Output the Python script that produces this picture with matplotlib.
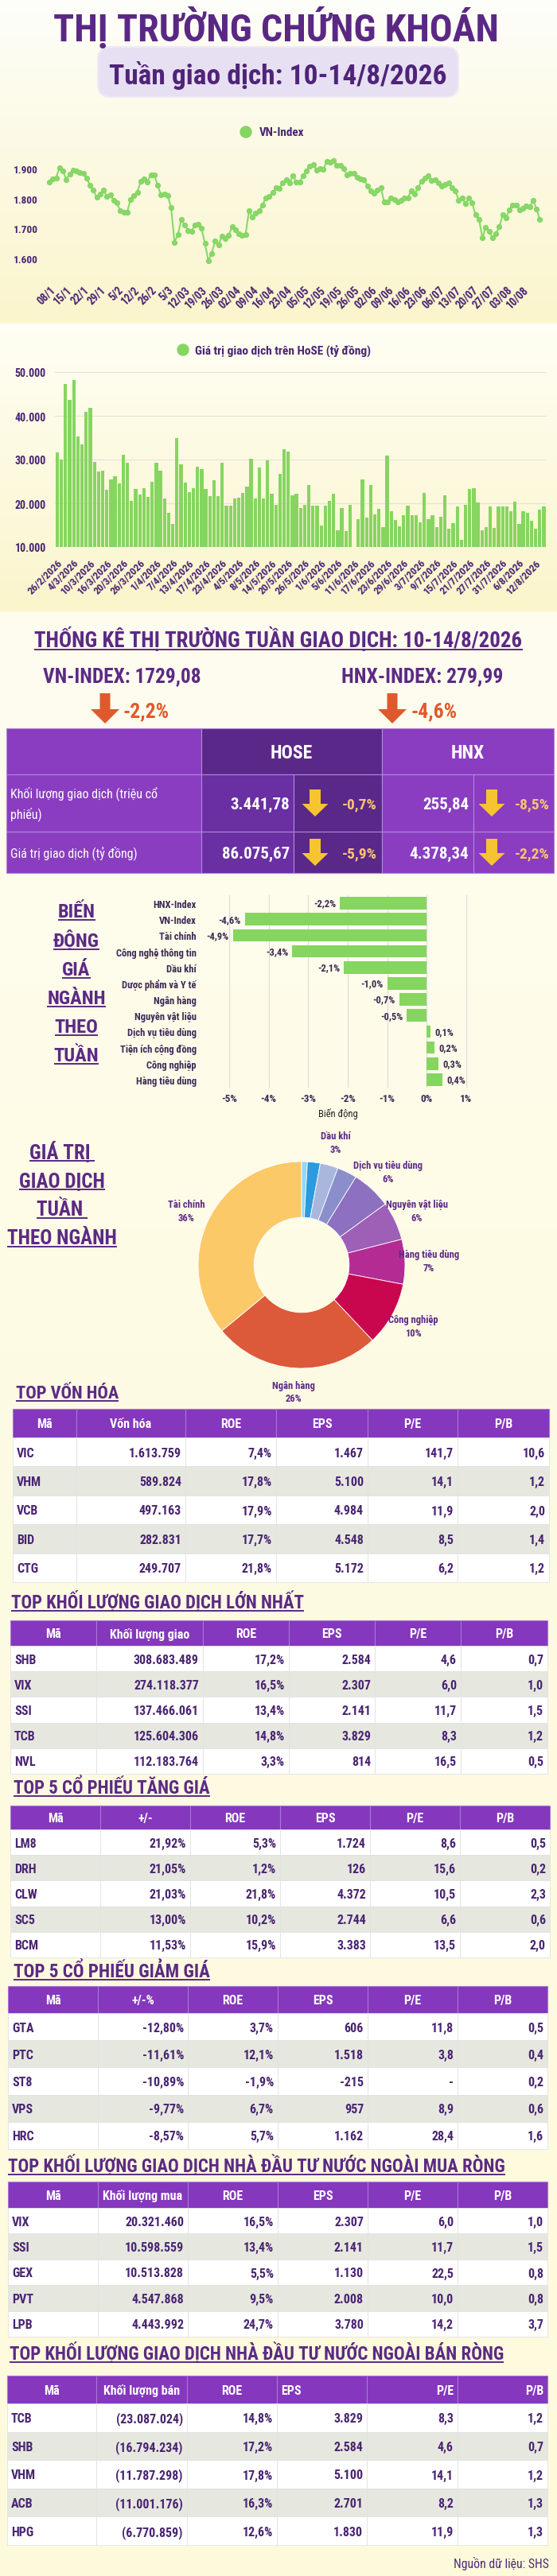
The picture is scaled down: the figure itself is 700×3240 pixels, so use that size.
import numpy as np
import matplotlib
matplotlib.use("Agg")
import matplotlib.pyplot as plt
from matplotlib import font_manager
from matplotlib.patches import Rectangle, FancyBboxPatch, FancyArrow, Circle
from matplotlib.ticker import FuncFormatter

# ---------------- data ----------------
VN_INDEX = [1854, 1865, 1869, 1904, 1893, 1864, 1881, 1896, 1893, 1887, 1883, 1869, 1844, 1829,
            1804, 1814, 1829, 1807, 1813, 1794, 1785, 1758, 1755, 1755, 1796, 1811, 1820, 1857,
            1865, 1856, 1880, 1880, 1844, 1813, 1816, 1810, 1769, 1654, 1679, 1730, 1711, 1694,
            1691, 1711, 1714, 1700, 1650, 1592, 1617, 1659, 1645, 1674, 1667, 1676, 1705, 1696,
            1682, 1676, 1679, 1758, 1738, 1752, 1758, 1778, 1803, 1807, 1820, 1836, 1833, 1853,
            1862, 1853, 1877, 1856, 1856, 1877, 1891, 1909, 1914, 1896, 1900, 1897, 1925, 1922,
            1927, 1912, 1911, 1899, 1880, 1884, 1883, 1872, 1865, 1862, 1843, 1826, 1818, 1829,
            1836, 1788, 1788, 1802, 1796, 1788, 1795, 1803, 1803, 1827, 1816, 1836, 1857, 1867,
            1877, 1860, 1864, 1853, 1841, 1846, 1851, 1836, 1826, 1795, 1803, 1782, 1802, 1785,
            1745, 1731, 1669, 1703, 1691, 1669, 1683, 1705, 1745, 1735, 1763, 1779, 1778, 1763,
            1767, 1776, 1772, 1794, 1765, 1729]
VN_TICKS = ["08/1", "15/1", "22/1", "29/1", "5/2", "12/2", "26/2", "5/3", "12/03", "19/03",
            "26/03", "02/04", "09/04", "16/04", "23/04", "05/05", "12/05", "19/05", "26/05",
            "02/06", "09/06", "16/06", "23/06", "06/07", "13/07", "20/07", "27/07", "03/08", "10/08"]

HOSE_VALUE = [31700, 30000, 47300, 43700, 48200, 35300, 33400, 41000, 41800, 29500,
              27200, 27400, 23100, 25400, 26200, 24600, 31100, 29300, 20500, 23300,
              22000, 23400, 21500, 24900, 29300, 27400, 21100, 17900, 15200, 35000,
              28900, 24700, 22500, 23500, 28300, 27900, 23300, 21700, 25200, 21600,
              29300, 19400, 19400, 21100, 21200, 22400, 23800, 30100, 21100, 28100,
              21100, 29900, 22200, 19700, 26700, 32400, 31800, 21900, 22200, 19000,
              19700, 24200, 19500, 19500, 15000, 19500, 20500, 22100, 13800, 19000,
              13700, 19700, 10000, 16300, 25400, 16700, 24200, 17500, 18700, 14500,
              31000, 18200, 16100, 14800, 17300, 19500, 17200, 17200, 15600, 22400,
              16400, 17200, 14600, 17000, 21800, 14200, 15500, 19200, 11600, 19600,
              23200, 23400, 20100, 13900, 14600, 19200, 14400, 19200, 19200, 19200,
              18200, 20400, 15200, 18100, 17800, 16000, 14100, 18600, 19300]
HOSE_TICKS = ["26/2/2026", "4/3/2026", "10/3/2026", "16/3/2026", "20/3/2026", "26/3/2026",
              "1/4/2026", "7/4/2026", "13/4/2026", "17/4/2026", "23/4/2026", "4/5/2026",
              "8/5/2026", "14/5/2026", "20/5/2026", "26/5/2026", "1/6/2026", "5/6/2026",
              "11/6/2026", "17/6/2026", "23/6/2026", "29/6/2026", "3/7/2026", "9/7/2026",
              "15/7/2026", "21/7/2026", "27/7/2026", "31/7/2026", "6/8/2026", "12/8/2026"]

INDEX_NAMES = ["VN-INDEX", "HNX-INDEX"]
INDEX_LEVEL = ["1729,08", "279,99"]
INDEX_CHG = [-2.2, -4.6]

STAT_ROWS = ["Khối lượng giao dịch (triệu cổ\nphiếu)", "Giá trị giao dịch (tỷ đồng)"]
HOSE_STAT = ["3.441,78", "86.075,67"]
HOSE_CHG = [-0.7, -5.9]
HNX_STAT = ["255,84", "4.378,34"]
HNX_CHG = [-8.5, -2.2]

SECTORS = ["HNX-Index", "VN-Index", "Tài chính", "Công nghệ thông tin", "Dầu khí",
           "Dược phẩm và Y tế", "Ngân hàng", "Nguyên vật liệu", "Dịch vụ tiêu dùng",
           "Tiện ích cộng đồng", "Công nghiệp", "Hàng tiêu dùng"]
SECTOR_CHG = [-2.2, -4.6, -4.9, -3.4, -2.1, -1.0, -0.7, -0.5, 0.1, 0.2, 0.3, 0.4]

PIE_NAMES = ["Tiện ích cộng đồng", "Công nghệ thông tin", "Dầu khí", "Dược phẩm và Y tế",
             "Dịch vụ tiêu dùng", "Nguyên vật liệu", "Hàng tiêu dùng", "Công nghiệp",
             "Ngân hàng", "Tài chính"]
PIE_SHARE = [0.9, 2.0, 2.8, 3.1, 6.2, 6.0, 7.0, 10.0, 26.0, 36.0]
PIE_SHOW = [False, False, True, False, True, True, True, True, True, True]
PIE_COLORS = ["#8fd8f6", "#2b9be0", "#a9b6dd", "#8a8fcb", "#8d70bf", "#9e5fb6",
              "#b42c93", "#c9074f", "#dc5a39", "#fbc967"]

CAP_HEAD = ["Mã", "Vốn hóa", "ROE", "EPS", "P/E", "P/B"]
CAP_ROWS = [["VIC", "1.613.759", "7,4%", "1.467", "141,7", "10,6"],
            ["VHM", "589.824", "17,8%", "5.100", "14,1", "1,2"],
            ["VCB", "497.163", "17,9%", "4.984", "11,9", "2,0"],
            ["BID", "282.831", "17,7%", "4.548", "8,5", "1,4"],
            ["CTG", "249.707", "21,8%", "5.172", "6,2", "1,2"]]
VOL_HEAD = ["Mã", "Khối lượng giao", "ROE", "EPS", "P/E", "P/B"]
VOL_ROWS = [["SHB", "308.683.489", "17,2%", "2.584", "4,6", "0,7"],
            ["VIX", "274.118.377", "16,5%", "2.307", "6,0", "1,0"],
            ["SSI", "137.466.061", "13,4%", "2.141", "11,7", "1,5"],
            ["TCB", "125.604.306", "14,8%", "3.829", "8,3", "1,2"],
            ["NVL", "112.183.764", "3,3%", "814", "16,5", "0,5"]]
GAIN_HEAD = ["Mã", "+/-", "ROE", "EPS", "P/E", "P/B"]
GAIN_ROWS = [["LM8", "21,92%", "5,3%", "1.724", "8,6", "0,5"],
             ["DRH", "21,05%", "1,2%", "126", "15,6", "0,2"],
             ["CLW", "21,03%", "21,8%", "4.372", "10,5", "2,3"],
             ["SC5", "13,00%", "10,2%", "2.744", "6,6", "0,6"],
             ["BCM", "11,53%", "15,9%", "3.383", "13,5", "2,0"]]
LOSS_HEAD = ["Mã", "+/-%", "ROE", "EPS", "P/E", "P/B"]
LOSS_ROWS = [["GTA", "-12,80%", "3,7%", "606", "11,8", "0,5"],
             ["PTC", "-11,61%", "12,1%", "1.518", "3,8", "0,4"],
             ["ST8", "-10,89%", "-1,9%", "-215", "-", "0,2"],
             ["VPS", "-9,77%", "6,7%", "957", "8,9", "0,6"],
             ["HRC", "-8,57%", "5,7%", "1.162", "28,4", "1,6"]]
BUY_HEAD = ["Mã", "Khối lượng mua", "ROE", "EPS", "P/E", "P/B"]
BUY_ROWS = [["VIX", "20.321.460", "16,5%", "2.307", "6,0", "1,0"],
            ["SSI", "10.598.559", "13,4%", "2.141", "11,7", "1,5"],
            ["GEX", "10.513.828", "5,5%", "1.130", "22,5", "0,8"],
            ["PVT", "4.547.868", "9,5%", "2.008", "10,0", "0,8"],
            ["LPB", "4.443.992", "24,7%", "3.780", "14,2", "3,7"]]
SELL_HEAD = ["Mã", "Khối lượng bán", "ROE", "EPS", "P/E", "P/B"]
SELL_ROWS = [["TCB", "(23.087.024)", "14,8%", "3.829", "8,3", "1,2"],
             ["SHB", "(16.794.234)", "17,2%", "2.584", "4,6", "0,7"],
             ["VHM", "(11.787.298)", "17,8%", "5.100", "14,1", "1,2"],
             ["ACB", "(11.001.176)", "16,3%", "2.701", "8,2", "1,3"],
             ["HPG", "(6.770.859)", "12,6%", "1.830", "11,9", "1,3"]]

# ---------------- style ----------------
W, H = 700, 3241
PURPLE = "#5b2a85"
DARKTXT = "#4a2572"
GREEN = "#86d561"
HEAD_BG = "#8537bd"
ROW_ALT = "#e6e8e0"

_avail = {f.name for f in font_manager.fontManager.ttflist}
COND = next((f for f in ["Roboto Condensed", "Liberation Sans Narrow", "DejaVu Sans Condensed",
                         "Open Sans Condensed"] if f in _avail), "Liberation Sans")
FAM = [COND, "DejaVu Sans"]
plt.rcParams["font.family"] = FAM
plt.rcParams["font.weight"] = "bold"


def dots(v, pos=None):
    return f"{v:,.0f}".replace(",", ".")


def pct(v):
    return f"{v:.1f}%".replace(".", ",")


fig = plt.figure(figsize=(W / 100, H / 100), dpi=100)
R = fig.canvas.get_renderer()

bg = fig.add_axes([0, 0, 1, 1])
BG_STOPS = [(0, "#fefefb"), (130, "#fdfbea"), (405, "#fbf5cd"), (409, "#fffef8"),
            (420, "#fffef3"), (768, "#fbf5cc"), (772, "#fffdf0"), (1700, "#fefbe4"),
            (3241, "#fdfadc")]
ys = np.arange(H)
cols = np.array([matplotlib.colors.to_rgb(c) for _, c in BG_STOPS])
grad = np.stack([np.interp(ys, [s for s, _ in BG_STOPS], cols[:, k]) for k in range(3)], axis=1)
bg.imshow(grad[:, None, :], extent=(0, W, H, 0), aspect="auto", interpolation="nearest", zorder=0)
bg.set_xlim(0, W)
bg.set_ylim(H, 0)
bg.axis("off")


def axes_px(x0, y0, x1, y1):
    ax = fig.add_axes([x0 / W, 1 - y1 / H, (x1 - x0) / W, (y1 - y0) / H])
    ax.patch.set_visible(False)
    return ax


def put(x, y, s, width=None, size=12, ha="left", va="baseline", color=PURPLE,
        weight="bold", underline=False, **kw):
    t = bg.text(x, y, s, fontsize=size, ha=ha, va=va, color=color, fontweight=weight, **kw)
    if width:
        w = t.get_window_extent(renderer=R).width
        t.set_fontsize(size * width / w)
    if underline:
        bb = t.get_window_extent(renderer=R)
        bg.plot([bb.x0, bb.x1], [y + 3.5, y + 3.5], color=color, lw=1.4,
                solid_capstyle="butt", zorder=3)
    return t


# ---------------- header ----------------
put(347, 52, "THỊ TRƯỜNG CHỨNG KHOÁN", width=560, size=40, ha="center", color="#5a2884")
bg.add_patch(FancyBboxPatch((123, 60), 453, 63, boxstyle="round,pad=0,rounding_size=16",
                            fc="#e7e0f2", ec="#efe9f7", lw=1.5, zorder=1))
put(349, 106, "Tuần giao dịch: 10-14/8/2026", width=425, size=30, ha="center", color="#4f2479")

# ---------------- VN-Index line ----------------
bg.add_patch(Circle((309, 167), 7, color=GREEN, zorder=2))
put(326, 167, "VN-Index", width=56, size=11, va="center", color=DARKTXT)

ax1 = axes_px(53.5, 198, 687, 341)
x_vn = np.arange(len(VN_INDEX))
ax1.plot(x_vn, VN_INDEX, color="#8ad86b", lw=1.5, marker="o", ms=4.2, mec="#84d563", mfc="#8ad86b")
ax1.set_xlim(-2, len(VN_INDEX) + 1)
ax1.set_ylim(1560, 1940)
ax1.set_yticks([1600, 1700, 1800, 1900])
ax1.yaxis.set_major_formatter(FuncFormatter(dots))
ax1.set_xticks(range(0, 5 * len(VN_TICKS), 5))
ax1.set_xticklabels(VN_TICKS, rotation=45, ha="right", rotation_mode="anchor")
ax1.tick_params(axis="y", length=0, pad=4, labelsize=9.5, labelcolor=DARKTXT)
ax1.tick_params(axis="x", length=0, pad=12, labelsize=10, labelcolor=DARKTXT)
for s in ax1.spines.values():
    s.set_visible(False)

# ---------------- HOSE value bars ----------------
bg.add_patch(Circle((230, 441), 7, color=GREEN, zorder=2))
put(245, 441, "Giá trị giao dịch trên HoSE (tỷ đồng)", width=221, size=11, va="center",
    color=DARKTXT)

ax2 = axes_px(68.9, 463.5, 686.6, 689)
ax2.bar(range(len(HOSE_VALUE)), HOSE_VALUE, width=0.82, color=GREEN, zorder=2)
ax2.set_xlim(-0.6, len(HOSE_VALUE) - 0.4)
ax2.set_ylim(10000, 51000)
ax2.set_yticks([10000, 20000, 30000, 40000, 50000])
ax2.yaxis.set_major_formatter(FuncFormatter(dots))
ax2.yaxis.grid(True, color="#e2e2dc", lw=0.8, zorder=0)
ax2.set_xticks(range(0, 4 * len(HOSE_TICKS), 4))
ax2.set_xticklabels(HOSE_TICKS, rotation=45, ha="right", rotation_mode="anchor")
ax2.tick_params(axis="y", length=0, pad=8, labelsize=10, labelcolor=DARKTXT)
ax2.tick_params(axis="x", length=0, pad=9, labelsize=9.5, labelcolor=DARKTXT)
for s in ax2.spines.values():
    s.set_visible(False)

# ---------------- weekly stats ----------------
put(350, 814, "THỐNG KÊ THỊ TRƯỜNG TUẦN GIAO DỊCH: 10-14/8/2026", width=613, size=20,
    ha="center", underline=True)
idx_x = [(54, 198, 132, 154), (429, 203, 493, 516)]
for (x0, wd, ax_, tx), name, lvl, chg in zip(idx_x, INDEX_NAMES, INDEX_LEVEL, INDEX_CHG):
    put(x0, 858, f"{name}: {lvl}", width=wd, size=18)
    bg.add_patch(FancyArrow(ax_, 873, 0, 38 if chg < 0 else -38, width=13, head_width=36,
                            head_length=18, length_includes_head=True, color="#de5a2c", lw=0))
    put(tx, 902, pct(chg).replace(",", ",") if chg < 0 else "+" + pct(chg), width=58, size=16,
        color="#e0592e")

C_LIGHT, C_MID, C_DARK = "#8a3dc1", "#6a2fa3", "#5a2889"
EDGE = "#b08ad8"
row_edges = [917, 975, 1047, 1099]
head_cells = [(8, 253, C_LIGHT, ""), (253, 480, C_DARK, "HOSE"), (480, 696, C_LIGHT, "HNX")]
for x0, x1, c, s in head_cells:
    bg.add_patch(Rectangle((x0, row_edges[0]), x1 - x0, row_edges[1] - row_edges[0], fc=c,
                           ec=EDGE, lw=0.8, zorder=2))
    if s:
        put((x0 + x1) / 2, (row_edges[0] + row_edges[1]) / 2 + 1, s, size=17, ha="center",
            va="center", color="white", zorder=3)
body_cols = [(8, 253, C_LIGHT), (253, 369, C_MID), (369, 480, C_DARK), (480, 595, C_LIGHT),
             (595, 696, C_LIGHT)]
for i, (lab, hv, hc, nv, nc) in enumerate(zip(STAT_ROWS, HOSE_STAT, HOSE_CHG, HNX_STAT, HNX_CHG)):
    y0, y1 = row_edges[i + 1], row_edges[i + 2]
    yc = (y0 + y1) / 2
    for x0, x1, c in body_cols:
        bg.add_patch(Rectangle((x0, y0), x1 - x0, y1 - y0, fc=c, ec=EDGE, lw=0.8, zorder=2))
    put(13, yc, lab, size=11.5, va="center", color="white", weight="normal", linespacing=1.6,
        zorder=3)
    for val, chg, vx, axx, px_ in [(hv, hc, 364, 396, 474), (nv, nc, 589, 618, 691)]:
        put(vx, yc + 1, val, size=15, ha="right", va="center", color="white", zorder=3)
        bg.add_patch(FancyArrow(axx, yc - 17, 0, 34 if chg < 0 else -34, width=14,
                                head_width=33, head_length=16, length_includes_head=True,
                                color="#f6c431", lw=0, zorder=3))
        put(px_, yc + 1, pct(chg), size=14, ha="right", va="center", color="#f8c46e", zorder=3)

# ---------------- sector change bars ----------------
word_t = put(96, 1263, "NGÀNH", width=74, size=20, ha="center", underline=True)
wsize = word_t.get_fontsize()
for word, yb in [("BIẾN", 1154), ("ĐỘNG", 1191), ("GIÁ", 1227), ("THEO", 1299), ("TUẦN", 1335)]:
    put(96, yb, word, size=wsize, ha="center", underline=True)

ax3 = axes_px(258, 1127, 591, 1369)
ypos = np.arange(len(SECTORS))
ax3.barh(ypos, SECTOR_CHG, height=0.78, color=GREEN, zorder=2)
for yv, v in zip(ypos, SECTOR_CHG):
    ax3.text(v - 0.1 if v < 0 else v + 0.1, yv, pct(v), ha="right" if v < 0 else "left",
             va="center", fontsize=9, color="#3d2a55")
ax3.set_xlim(-5.6, 1.1)
ax3.set_ylim(len(SECTORS) - 0.5, -0.5)
ax3.set_yticks(ypos)
ax3.set_yticklabels(SECTORS)
ax3.set_xticks(range(-5, 2))
ax3.set_xticklabels([f"{v}%" for v in range(-5, 2)])
ax3.xaxis.grid(True, color="#dcdcd6", lw=0.8, zorder=0)
ax3.tick_params(axis="y", length=0, pad=8, labelsize=9, labelcolor="#3d2a55")
ax3.tick_params(axis="x", length=0, pad=5, labelsize=9.5, labelcolor="#3d2a55")
ax3.set_xlabel("Biến động", fontsize=9, color="#222222", labelpad=4)
for s in ax3.spines.values():
    s.set_visible(False)

# ---------------- sector value donut ----------------
blk = put(78, 1565, "THEO NGÀNH", width=138, size=20, ha="center", underline=True)
bsize = blk.get_fontsize()
for word, yb in [("GIÁ TRỊ ", 1457), ("GIAO DỊCH", 1493), ("TUẦN ", 1529)]:
    put(78, yb, word, size=bsize, ha="center", underline=True)

ax4 = axes_px(171, 1384, 587, 1800)
pie_labels = [f"{n}\n{round(v)}%" if show else "" for n, v, show in zip(PIE_NAMES, PIE_SHARE, PIE_SHOW)]
wedges, texts = ax4.pie(PIE_SHARE, colors=PIE_COLORS, startangle=90, counterclock=False,
                        labels=pie_labels, labeldistance=1.23,
                        wedgeprops=dict(width=0.54, edgecolor="white", linewidth=0.6),
                        textprops=dict(fontsize=9, color=PURPLE, linespacing=1.35))
for t in texts:
    t.set_ha("center")
    t.set_va("center")
ax4.set_xlim(-1.6, 1.6)
ax4.set_ylim(-1.6, 1.6)
ax4.set_aspect("equal")


# ---------------- tables ----------------
def draw_table(top, head_bot, row_h, edges, head, rows, head_align=None):
    head_align = head_align or ["center"] * len(head)
    for j, (h, al) in enumerate(zip(head, head_align)):
        x0, x1 = edges[j], edges[j + 1]
        bg.add_patch(Rectangle((x0, top), x1 - x0, head_bot - top, fc=HEAD_BG, ec="#a878d6",
                               lw=0.8, zorder=2))
        hx = {"center": (x0 + x1) / 2, "left": x0 + 5, "right": x1 - 5}[al]
        put(hx, (top + head_bot) / 2 + 1, h, size=11.5, ha=al, va="center", color="white",
            zorder=3)
    for i, row in enumerate(rows):
        y0 = head_bot + i * row_h
        fc = "white" if i % 2 == 0 else ROW_ALT
        for j, cell in enumerate(row):
            x0, x1 = edges[j], edges[j + 1]
            bg.add_patch(Rectangle((x0, y0), x1 - x0, row_h, fc=fc, ec="#e2e2e2", lw=0.6,
                                   zorder=2))
            if j == 0:
                put(x0 + 5, y0 + row_h / 2 + 1, cell, size=11.5, va="center", color=DARKTXT,
                    zorder=3)
            else:
                put(x1 - 5, y0 + row_h / 2 + 1, cell, size=11.5, ha="right", va="center",
                    color=DARKTXT, zorder=3)


put(20, 1759, "TOP VỐN HÓA", width=130, size=18, underline=True)
draw_table(1773, 1809, 36.4, [16, 96, 233, 347, 462, 575, 690], CAP_HEAD, CAP_ROWS)

put(14, 2023, "TOP KHỐI LƯỢNG GIAO DỊCH LỚN NHẤT", width=369, size=18, underline=True)
draw_table(2039, 2071, 32.2, [13, 121, 255, 363, 471, 579, 688], VOL_HEAD, VOL_ROWS)

put(17, 2256, "TOP 5 CỔ PHIẾU TĂNG GIÁ", width=248, size=18, underline=True)
draw_table(2272, 2302, 32.2, [13, 126, 239, 352, 465, 578, 691], GAIN_HEAD, GAIN_ROWS)

put(17, 2487, "TOP 5 CỔ PHIẾU GIẢM GIÁ", width=247, size=18, underline=True)
draw_table(2499, 2533, 34.2, [10, 123, 236, 349, 462, 575, 688], LOSS_HEAD, LOSS_ROWS)

put(10, 2732, "TOP KHỐI LƯỢNG GIAO DỊCH NHÀ ĐẦU TƯ NƯỚC NGOÀI MUA RÒNG", width=628, size=18,
    underline=True)
draw_table(2745, 2778, 32.4, [10, 123, 236, 349, 462, 575, 688], BUY_HEAD, BUY_ROWS)

put(12, 2968, "TOP KHỐI LƯỢNG GIAO DỊCH NHÀ ĐẦU TƯ NƯỚC NGOÀI BÁN RÒNG", width=623, size=18,
    underline=True)
draw_table(2989, 3024, 35.6, [9, 121, 235, 348, 461, 575, 688], SELL_HEAD, SELL_ROWS,
           head_align=["center", "center", "center", "left", "right", "right"])

put(690, 3230, "Nguồn dữ liệu: SHS", width=120, size=11, ha="right", weight="normal",
    color="#4f2a78")

fig.savefig("out.png", dpi=100)
